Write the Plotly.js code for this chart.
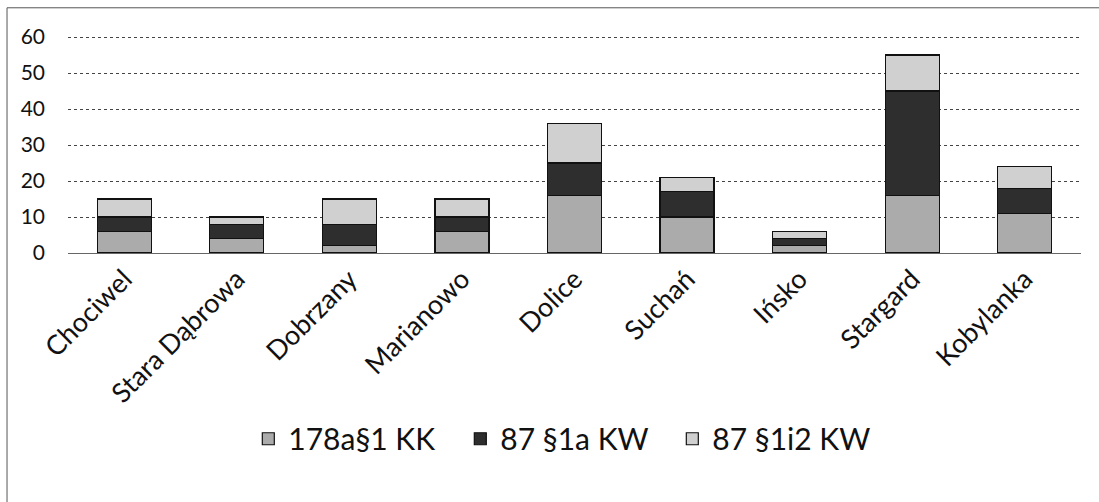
<!DOCTYPE html>
<html>
<head>
<meta charset="utf-8">
<script src="https://cdn.plot.ly/plotly-3.0.1.min.js"></script>
<style>html,body{margin:0;padding:0;background:#fff;}#chart{width:1099px;height:502px;}</style>
</head>
<body>
<div id="chart"></div>
<script>
const categories = ["Chociwel", "Stara Dąbrowa", "Dobrzany", "Marianowo", "Dolice", "Suchań", "Ińsko", "Stargard", "Kobylanka"];
const seriesNames = ["178a§1 KK", "87 §1a KW", "87 §1i2 KW"];
const kk178a = [6, 4, 2, 6, 16, 10, 2, 16, 11];
const kw87_1a = [4, 4, 6, 4, 9, 7, 2, 29, 7];
const kw87_1i2 = [5, 2, 7, 5, 11, 4, 2, 10, 6];
const yTicks = [0, 10, 20, 30, 40, 50, 60];

const colors = ["#ababab", "#2e2e2e", "#d0d0d0"];
const values = [kk178a, kw87_1a, kw87_1i2];

const traces = values.map((v, i) => ({
  type: "bar",
  name: seriesNames[i],
  x: categories,
  y: v,
  marker: {color: colors[i], line: {color: "#111", width: 1.2}},
  hoverinfo: "skip"
}));

const layout = {
  width: 1099, height: 502,
  margin: {l: 68, r: 18, t: 36, b: 249, pad: 0},
  barmode: "stack",
  bargap: 0.52,
  paper_bgcolor: "#fff",
  plot_bgcolor: "#fff",
  font: {family: "Lato, 'Open Sans', sans-serif", color: "#111", size: 16},
  xaxis: {
    tickangle: -45,
    tickfont: {size: 27, color: "#111"},
    showgrid: false, zeroline: false, showline: false, ticks: "",
    ticklabelstandoff: 4
  },
  yaxis: {
    range: [0, 60.3],
    tickvals: yTicks,
    ticktext: yTicks.map(String),
    tickfont: {size: 21, color: "#111"},
    showgrid: true, gridcolor: "#444", griddash: "dot", gridwidth: 1,
    zeroline: true, zerolinecolor: "#666", zerolinewidth: 1,
    showline: false, ticks: "", ticklen: 0, ticklabelstandoff: 22
  },
  showlegend: true,
  legend: {
    orientation: "h", x: 0.178, xanchor: "left", y: -0.856, yanchor: "middle",
    font: {size: 30, color: "#111"},
    itemwidth: 30, traceorder: "normal",
    entrywidth: 167, entrywidthmode: "pixels"
  },
  shapes: [
    {type: "line", xref: "paper", yref: "paper", x0: -0.0602, x1: -0.0602, y0: 1.13, y1: -1.3, line: {color: "#555", width: 1}},
    {type: "line", xref: "paper", yref: "paper", x0: -0.0602, x1: 1.02, y0: 1.13, y1: 1.13, line: {color: "#555", width: 1}}
  ]
};

Plotly.newPlot("chart", traces, layout, {displayModeBar: false, staticPlot: true});
</script>
</body>
</html>
